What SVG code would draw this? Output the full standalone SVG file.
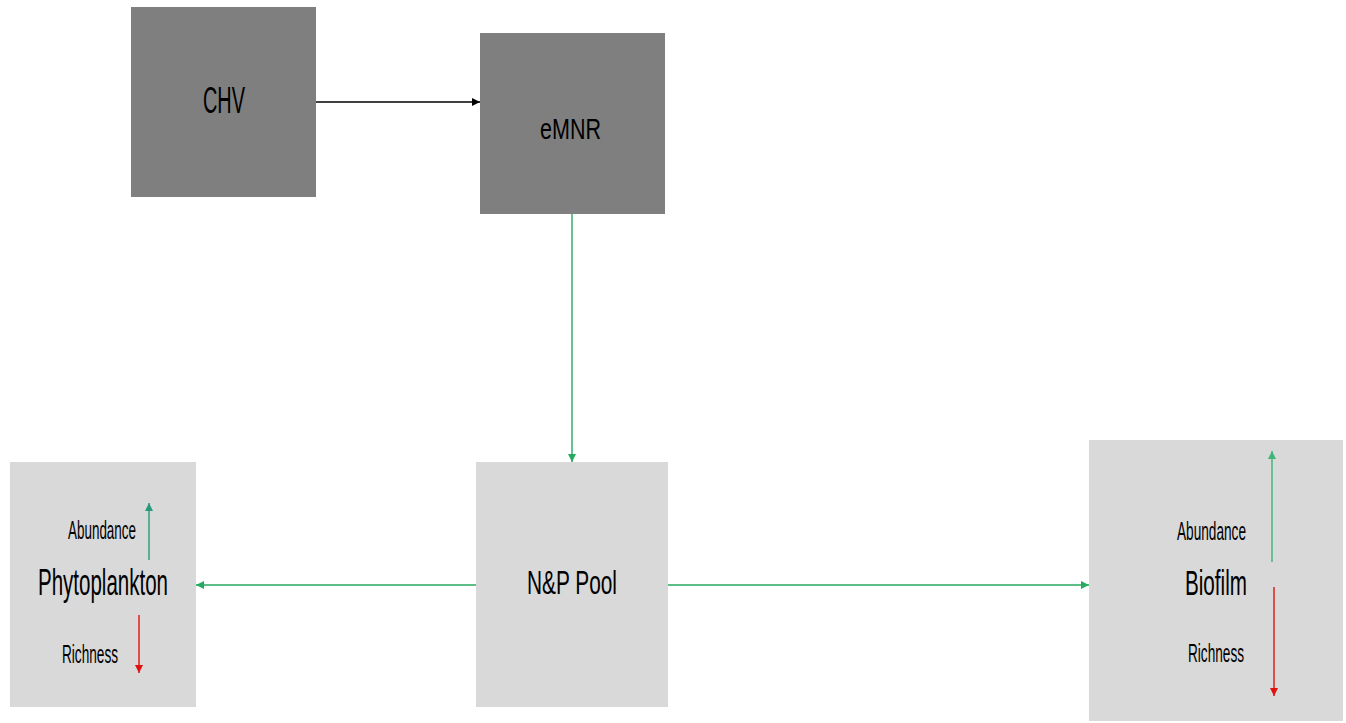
<svg xmlns="http://www.w3.org/2000/svg" width="1346" height="723" viewBox="0 0 1346 723">
<style>
.dark{fill:#7f7f7f}
.light{fill:#d9d9d9}
text{font-family:"Liberation Sans",Arial,sans-serif;fill:#000}
.big{font-size:36px}
.sm{font-size:25px}
.g{stroke:#27aa5f;stroke-width:1.4;fill:none}
</style>
<defs>
<marker id="ab" markerWidth="10" markerHeight="10" refX="8" refY="4" orient="auto" markerUnits="userSpaceOnUse"><path d="M0,0 L8,4 L0,8 z" fill="#000"/></marker>
<marker id="ag" markerWidth="10" markerHeight="10" refX="8" refY="4" orient="auto" markerUnits="userSpaceOnUse"><path d="M0,0 L8,4 L0,8 z" fill="#27aa5f"/></marker>
<marker id="at" markerWidth="10" markerHeight="10" refX="8" refY="4" orient="auto" markerUnits="userSpaceOnUse"><path d="M0,0 L8,4 L0,8 z" fill="#279a7c"/></marker>
<marker id="al" markerWidth="10" markerHeight="10" refX="8" refY="4" orient="auto" markerUnits="userSpaceOnUse"><path d="M0,0 L8,4 L0,8 z" fill="#3db676"/></marker>
<marker id="ar" markerWidth="10" markerHeight="10" refX="8" refY="4" orient="auto" markerUnits="userSpaceOnUse"><path d="M0,0 L8,4 L0,8 z" fill="#e31010"/></marker>
</defs>
<rect width="1346" height="723" fill="#fff"/>
<g id="chv">
<rect class="dark" x="131" y="7" width="185" height="190"/>
<text class="big" x="203" y="113" textLength="42" lengthAdjust="spacingAndGlyphs">CHV</text>
</g>
<g id="emnr">
<rect class="dark" x="480" y="33" width="185" height="181"/>
<text x="540" y="139" font-size="30" textLength="61" lengthAdjust="spacingAndGlyphs">eMNR</text>
</g>
<g id="np-pool">
<rect class="light" x="476" y="462" width="192" height="245"/>
<text x="527" y="594" font-size="33" textLength="90" lengthAdjust="spacingAndGlyphs">N&amp;P Pool</text>
</g>
<g id="phytoplankton">
<rect class="light" x="10" y="462" width="186" height="245"/>
<text class="big" x="38" y="595" textLength="130" lengthAdjust="spacingAndGlyphs">Phytoplankton</text>
<text class="sm" x="68" y="539" textLength="68" lengthAdjust="spacingAndGlyphs">Abundance</text>
<text class="sm" x="62" y="663" textLength="56" lengthAdjust="spacingAndGlyphs">Richness</text>
<line x1="149" y1="560" x2="149" y2="503" stroke="#279a7c" stroke-width="1.4" marker-end="url(#at)"/>
<line x1="139" y1="615" x2="139" y2="673" stroke="#e31010" stroke-width="1.4" marker-end="url(#ar)"/>
</g>
<g id="biofilm">
<rect class="light" x="1089" y="440" width="254" height="281"/>
<text x="1185" y="595" font-size="35" textLength="62" lengthAdjust="spacingAndGlyphs">Biofilm</text>
<text class="sm" x="1177" y="540" textLength="69" lengthAdjust="spacingAndGlyphs">Abundance</text>
<text class="sm" x="1188" y="662" textLength="56" lengthAdjust="spacingAndGlyphs">Richness</text>
<line x1="1272" y1="562" x2="1272" y2="451" stroke="#3db676" stroke-width="1.4" marker-end="url(#al)"/>
<line x1="1274" y1="587" x2="1274" y2="696" stroke="#e31010" stroke-width="1.4" marker-end="url(#ar)"/>
</g>
<g id="connectors">
<line x1="316" y1="102" x2="480" y2="102" stroke="#000" stroke-width="1.6" marker-end="url(#ab)"/>
<line class="g" x1="572" y1="214" x2="572" y2="462" marker-end="url(#ag)"/>
<line class="g" x1="476" y1="585" x2="196" y2="585" marker-end="url(#ag)"/>
<line class="g" x1="668" y1="585" x2="1089" y2="585" marker-end="url(#ag)"/>
</g>
</svg>
